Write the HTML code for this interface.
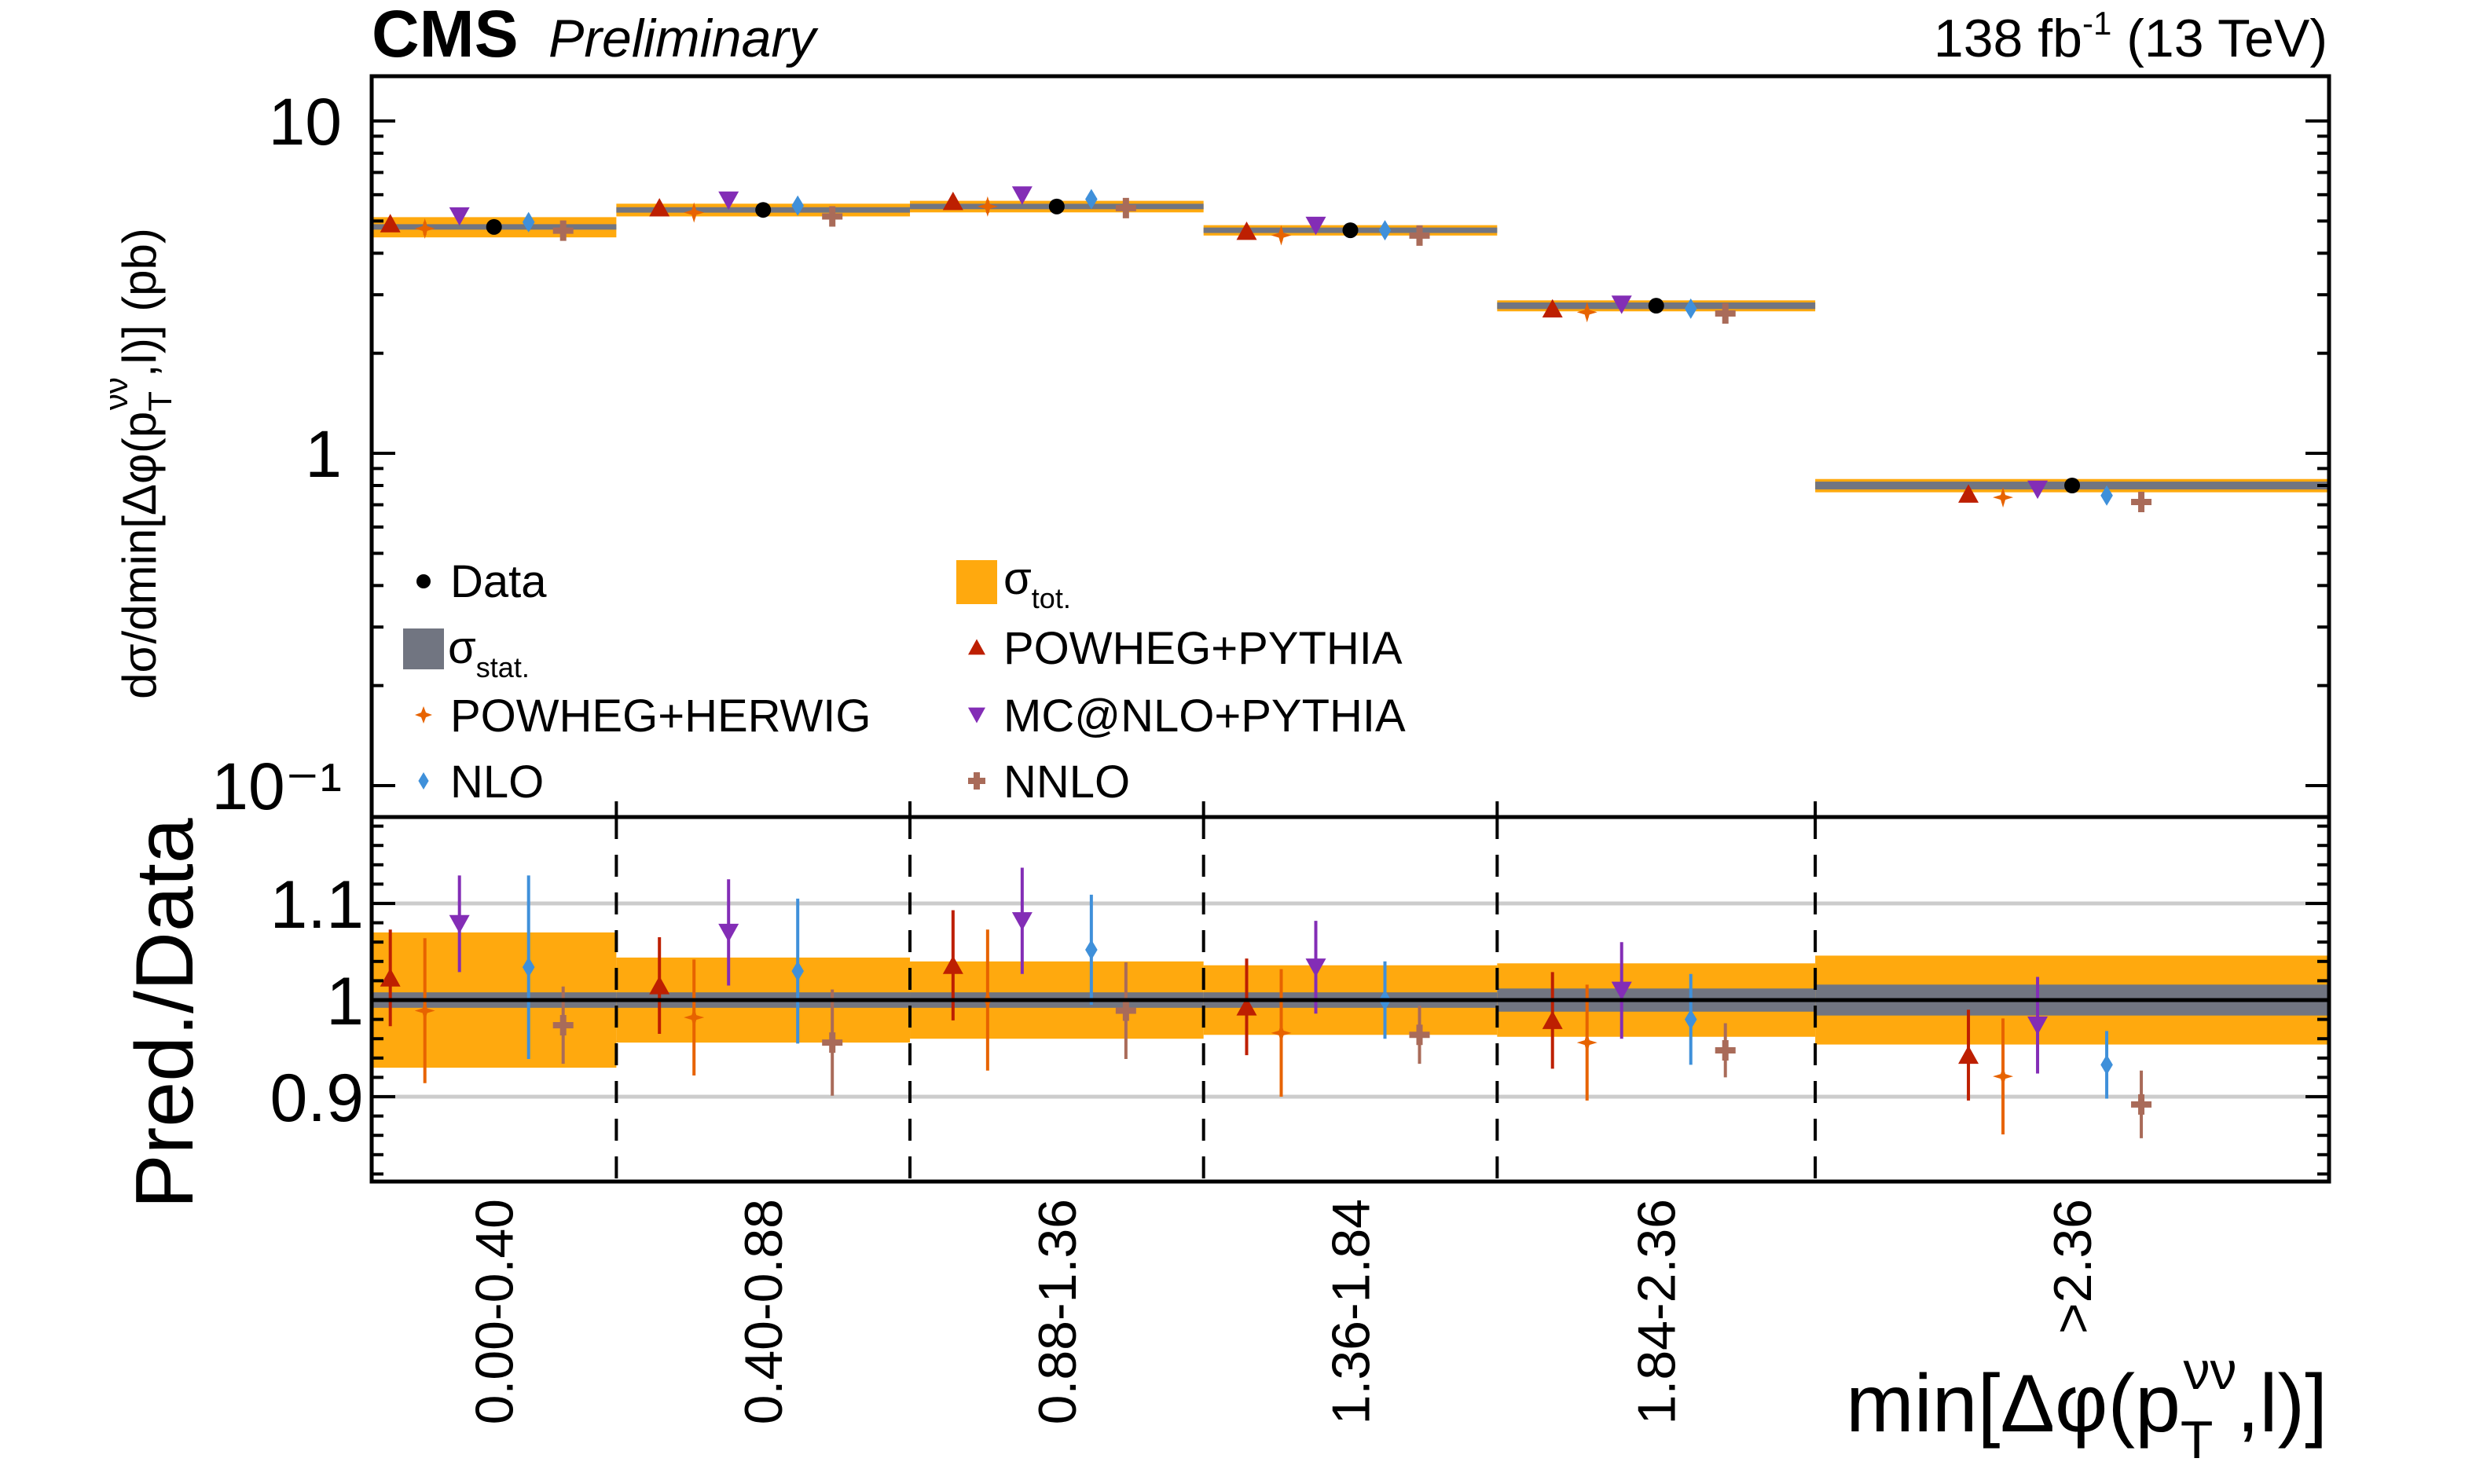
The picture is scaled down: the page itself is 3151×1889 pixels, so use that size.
<!DOCTYPE html>
<html><head><meta charset="utf-8"><style>
html,body{margin:0;padding:0;background:#fff}
svg{display:block}
text{font-family:"Liberation Sans",sans-serif;fill:#000}
</style></head><body>
<svg id="c" width="3151" height="1889" viewBox="0 0 3151 1889" xmlns="http://www.w3.org/2000/svg">
<g id="up"></g>
<g id="lo"></g>
<g id="ax"></g>
<text x="473" y="72" font-size="84" font-weight="bold">CMS</text>
<text x="698" y="72" font-size="68" font-style="italic">Preliminary</text>
<text x="2962" y="72" font-size="68" text-anchor="end">138 fb<tspan font-size="42" dy="-28">-1</tspan><tspan dy="28"> (13 TeV)</tspan></text>
<text transform="translate(198,590) rotate(-90)" font-size="60" text-anchor="middle">dσ/dmin[Δφ(p<tspan font-size="42" dy="20">T</tspan><tspan font-size="42" dx="-24" dy="-56">νν</tspan><tspan dy="36">,l)] (pb)</tspan></text>
<text transform="translate(245,1290) rotate(-90)" font-size="104" text-anchor="middle">Pred./Data</text>
<text x="2962" y="1822" font-size="104" text-anchor="end">min[Δφ(p<tspan font-size="68" dy="34">T</tspan><tspan font-size="68" dx="-38" dy="-88">νν</tspan><tspan dy="54">,l)]</tspan></text>
<g id="leg"></g>
</svg>
<script>
const edges=[0,0.4,0.88,1.36,1.84,2.36,3.2];
const binLabels=["0.00-0.40","0.40-0.88","0.88-1.36","1.36-1.84","1.84-2.36",">2.36"];
const dataVals=[4.8,5.4,5.53,4.69,2.78,0.80];
const totErr=[0.07,0.044,0.04,0.036,0.038,0.046];
const statErr=[0.008,0.008,0.008,0.008,0.012,0.016];
const ratioPowPy=[1.023,1.015,1.036,0.993,0.979,0.943];
const errPowPy=[0.05,0.05,0.057,0.05,0.05,0.047];
const ratioPowHw=[0.989,0.982,1.0,0.966,0.956,0.921];
const errPowHw=[0.075,0.06,0.073,0.066,0.06,0.06];
const ratioMcnlo=[1.079,1.07,1.082,1.034,1.01,0.974];
const errMcnlo=[0.05,0.055,0.055,0.048,0.05,0.05];
const ratioNlo=[1.034,1.03,1.052,1.0,0.98,0.933];
const errNlo=[0.095,0.075,0.057,0.04,0.047,0.035];
const ratioNnlo=[0.974,0.956,0.989,0.964,0.948,0.892];
const errNnlo=[0.04,0.055,0.05,0.03,0.028,0.035];
const upTicks=[10,1,0.1];
const upTickLabels=["10","1","10⁻¹"];
const loTicks=[1.1,1.0,0.9];
const loTickLabels=["1.1","1","0.9"];

const NS="http://www.w3.org/2000/svg";
const L=473,R=2964,T=97,MB=1040,B=1504;
const xs=v=>L+v*(R-L)/3.2;
const yU=v=>577-423*Math.log10(v);
const yL=r=>1273-1230*(r-1);
function mk(p,tag,a){const e=document.createElementNS(NS,tag);for(const k in a)e.setAttribute(k,a[k]);p.appendChild(e);return e;}
const up=document.getElementById('up'),lo=document.getElementById('lo'),ax=document.getElementById('ax'),leg=document.getElementById('leg');
const series=[
 {n:'powheg-pythia',r:ratioPowPy,e:errPowPy,c:'#bd1f01',m:'tu',off:-3},
 {n:'powheg-herwig',r:ratioPowHw,e:errPowHw,c:'#e76300',m:'star',off:-2},
 {n:'mcnlo-pythia',r:ratioMcnlo,e:errMcnlo,c:'#832db6',m:'td',off:-1},
 {n:'nlo',r:ratioNlo,e:errNlo,c:'#3f90da',m:'dia',off:1},
 {n:'nnlo',r:ratioNnlo,e:errNnlo,c:'#a96b59',m:'plus',off:2}];
function marker(p,m,x,y,c,s){
 if(m==='tu')return mk(p,'path',{d:`M${x-s} ${y+s*0.85}L${x+s} ${y+s*0.85}L${x} ${y-s*0.95}Z`,fill:c});
 if(m==='td')return mk(p,'path',{d:`M${x-s} ${y-s*0.85}L${x+s} ${y-s*0.85}L${x} ${y+s*0.95}Z`,fill:c});
 if(m==='dia')return mk(p,'path',{d:`M${x} ${y-s}L${x+s*0.6} ${y}L${x} ${y+s}L${x-s*0.6} ${y}Z`,fill:c});
 if(m==='star')return mk(p,'path',{d:`M${x} ${y-s}L${x+3} ${y-3}L${x+s} ${y}L${x+3} ${y+3}L${x} ${y+s}L${x-3} ${y+3}L${x-s} ${y}L${x-3} ${y-3}Z`,fill:c});
 if(m==='plus')return mk(p,'path',{d:`M${x-4} ${y-s}h8v${s-4}h${s-4}v8h${-(s-4)}v${s-4}h-8v${-(s-4)}h${-(s-4)}v-8h${s-4}Z`,fill:c});
 return mk(p,'circle',{cx:x,cy:y,r:s*0.65,fill:c});
}
loTicks.forEach((t,i)=>{if(t!==1){const g=mk(lo,'line',{x1:L,x2:R,y1:yL(t),y2:yL(t),stroke:'#cccccc','stroke-width':5});

}});
for(let i=0;i<6;i++){
 const x0=xs(edges[i]),x1=xs(edges[i+1]),xc=xs((edges[i]+edges[i+1])/2);
 const d=dataVals[i];
 let b=mk(up,'rect',{x:x0,y:yU(d*(1+totErr[i])),width:x1-x0,height:yU(d*(1-totErr[i]))-yU(d*(1+totErr[i])),fill:'#ffa90e'});
 
 
 b=mk(up,'rect',{x:x0,y:yU(d*(1+statErr[i]))-2,width:x1-x0,height:yU(d*(1-statErr[i]))-yU(d*(1+statErr[i]))+4,fill:'#717581'});
 
 
 b=mk(lo,'rect',{x:x0,y:yL(1+totErr[i]),width:x1-x0,height:yL(1-totErr[i])-yL(1+totErr[i]),fill:'#ffa90e'});
 
 
 b=mk(lo,'rect',{x:x0,y:yL(1+statErr[i]),width:x1-x0,height:yL(1-statErr[i])-yL(1+statErr[i]),fill:'#717581'});
 
 
 series.forEach(s=>{
  const x=xc+s.off*44;
  const v=d*s.r[i];
  let e=mk(up,'line',{x1:x,x2:x,y1:yU(v*(1+s.e[i]*0.6)),y2:yU(v*(1-s.e[i]*0.6)),stroke:s.c,'stroke-width':4});
  
  
  const m=marker(up,s.m,x,yU(v),s.c,13);
  
  
  e=mk(lo,'line',{x1:x,x2:x,y1:yL(s.r[i]+s.e[i]),y2:yL(s.r[i]-s.e[i]),stroke:s.c,'stroke-width':4});
  
  
  const m2=marker(lo,s.m,x,yL(s.r[i]),s.c,13);
  
  
 });
 const dp=mk(up,'circle',{cx:xc,cy:yU(d),r:10,fill:'#000'});
 
 
 const lab=mk(ax,'text',{transform:`translate(${xc+24},1526) rotate(-90)`,'font-size':68,'text-anchor':'end'});
 lab.textContent=binLabels[i];
 
 
 if(i>0){const dl=mk(ax,'line',{x1:x0,x2:x0,y1:MB,y2:B,stroke:'#000','stroke-width':4,'stroke-dasharray':'28 20'});
 
 
 mk(ax,'line',{x1:x0,x2:x0,y1:MB,y2:MB-20,stroke:'#000','stroke-width':4});}
}
let one=mk(lo,'line',{x1:L,x2:R,y1:yL(1),y2:yL(1),stroke:'#000','stroke-width':5});


mk(ax,'rect',{x:L,y:T,width:R-L,height:B-T,fill:'none',stroke:'#000','stroke-width':5});
mk(ax,'line',{x1:L,x2:R,y1:MB,y2:MB,stroke:'#000','stroke-width':5});
for(let dec=-1;dec<=1;dec++)for(let k=1;k<10;k++){const v=k*Math.pow(10,dec);const y=yU(v);if(y<T||y>MB)continue;
 const len=k===1?30:15;
 mk(ax,'line',{x1:L,x2:L+len,y1:y,y2:y,stroke:'#000','stroke-width':4});
 mk(ax,'line',{x1:R,x2:R-len,y1:y,y2:y,stroke:'#000','stroke-width':4});}
upTicks.forEach((t,i)=>{const tx=mk(ax,'text',{x:L-38,y:yU(t)+30,'font-size':84,'text-anchor':'end'});tx.textContent=upTickLabels[i];
 
 });
for(let r=0.82;r<=1.19;r+=0.02){const y=yL(r);const major=Math.abs((r*10)-Math.round(r*10))<0.01;
 mk(ax,'line',{x1:L,x2:L+(major?30:15),y1:y,y2:y,stroke:'#000','stroke-width':4});
 mk(ax,'line',{x1:R,x2:R-(major?30:15),y1:y,y2:y,stroke:'#000','stroke-width':4});}
loTicks.forEach((t,i)=>{const tx=mk(ax,'text',{x:L-10,y:yL(t)+31,'font-size':86,'text-anchor':'end'});tx.textContent=loTickLabels[i];
 
 });
function lt(x,y,s){const t=mk(leg,'text',{x:x,y:y,'font-size':58});t.innerHTML=s;return t;}
let lm=mk(leg,'circle',{cx:539,cy:740,r:9,fill:'#000'});
lt(573,760,'Data');
lm=mk(leg,'rect',{x:513,y:800,width:52,height:52,fill:'#717581'});
lt(570,844,'σ<tspan font-size="36" dy="18">stat.</tspan>');
lm=mk(leg,'rect',{x:1217,y:713,width:52,height:56,fill:'#ffa90e'});
lt(1277,756,'σ<tspan font-size="36" dy="18">tot.</tspan>');
const legItems=[[539,910,1,'POWHEG+HERWIG'],[539,994,3,'NLO'],[1243,824,0,'POWHEG+PYTHIA'],[1243,910,2,'MC@NLO+PYTHIA'],[1243,994,4,'NNLO']];
legItems.forEach(it=>{const s=series[it[2]];const m=marker(leg,s.m,it[0],it[1],s.c,11);
 
 
 lt(it[0]+34,it[1]+21,it[3]);});
</script>
</body></html>
